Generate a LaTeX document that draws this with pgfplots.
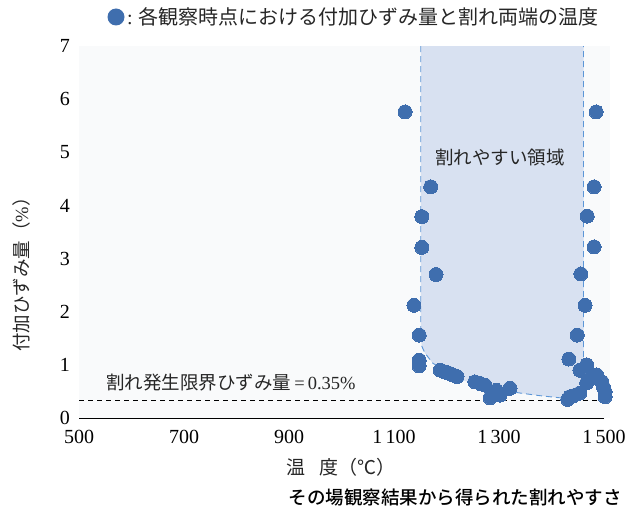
\documentclass[border=0pt]{standalone}
\usepackage{fontspec}
\setmainfont{Liberation Serif}
\newfontfamily\cjk{Noto Sans CJK JP}
\newfontfamily\cjkm{Noto Sans CJK JP Medium}
\usepackage{pgfplots}
\pgfplotsset{compat=1.18}
\definecolor{dotblue}{RGB}{63,110,174}
\definecolor{regfill}{RGB}{216,225,241}
\definecolor{regline}{RGB}{92,150,215}
\definecolor{panel}{RGB}{249,250,251}
\begin{document}
\begin{tikzpicture}[x=1pt,y=1pt]
\useasboundingbox (0,0) rectangle (628,515);
\begin{axis}[
  at={(79pt,97pt)}, anchor=south west,
  scale only axis, width=525pt, height=372pt,
  xmin=500, xmax=1500, ymin=0, ymax=7,
  axis x line*=bottom, axis y line*=left,
  axis line style={line width=0.9pt,-},
  every tick/.style={black, line width=0.9pt},
  tick align=inside, major tick length=7pt,
  xtick={500,700,900,1100,1300,1500},
  xticklabels={500,700,900,1\,100,1\,300,1\,500},
  ytick={0,1,2,3,4,5,6,7},
  yticklabels={0,1,2,3,4,5,6,7},
  extra y ticks={0.33}, extra y tick labels={},
  tick label style={font=\fontsize{20}{24}\selectfont},
  xticklabel style={inner sep=0pt, yshift=-12pt},
  yticklabel style={inner sep=0pt, xshift=-9pt},
  clip=false,
]
\fill[panel] (axis cs:500,0) rectangle (axis cs:1512,7);
% crack-prone region
\addplot[fill=regfill, draw=none] coordinates {
  (1151,7) (1151,1.5) (1153,1.35) (1159,1.22) (1174,1.03) (1190,0.94) (1207,0.85) (1232,0.71)
  (1265,0.61) (1302,0.53) (1340,0.47) (1378,0.42) (1416,0.38) (1440,0.36) (1461,0.35) (1461,7)
} -- cycle;
\addplot[regline, dash pattern=on 6pt off 4pt, line width=0.9pt] coordinates {
  (1151,7) (1151,1.5) (1153,1.35) (1159,1.22) (1174,1.03) (1190,0.94) (1207,0.85) (1232,0.71)
  (1265,0.61) (1302,0.53) (1340,0.47) (1378,0.42) (1416,0.38) (1440,0.36) (1461,0.35) (1461,7)
};
% threshold
\addplot[black, dash pattern=on 5pt off 4pt, line width=0.8pt] coordinates {(500,0.33) (1500,0.33)};
% observations
\addplot[only marks, mark=*, mark size=7pt, color=dotblue, mark options={fill=dotblue, draw=dotblue, line width=0pt}] coordinates {
  (1121,5.76) (1170,4.35) (1153,3.79) (1153,3.21) (1180,2.70) (1138,2.12) (1148,1.56)
  (1148,1.09) (1148,0.98) (1188,0.90) (1196,0.87) (1203,0.85) (1212,0.81) (1220,0.78)
  (1254,0.68) (1264,0.65) (1273,0.62) (1295,0.52) (1286,0.43) (1302,0.43) (1283,0.38)
  (1321,0.56)
  (1485,5.76) (1481,4.35) (1468,3.80) (1481,3.22) (1456,2.71) (1464,2.12) (1449,1.56)
  (1433,1.11) (1467,1.00) (1454,0.90) (1486,0.81) (1496,0.68) (1467,0.66) (1502,0.49)
  (1502,0.40) (1454,0.47) (1435,0.40) (1431,0.35) (1442,0.42) (1476,0.75) (1499,0.58)
};
\node[font=\cjk\fontsize{18.5}{22}\selectfont, text=black!85] at (axis cs:1302,4.91) {割れやすい領域};
\end{axis}
% title
\fill[dotblue] (116,498) circle (8.5);
\node[anchor=west, inner sep=0, text=black!85] at (127,498)
  {\fontsize{20}{24}\selectfont :\hspace{0.3em}{\cjk 各観察時点における付加ひずみ量と割れ両端の温度}};
% threshold label
\node[anchor=west, inner sep=0, text=black!85] at (106,132)
  {\fontsize{18.5}{22}\selectfont {\cjk 割れ発生限界ひずみ量}\,=\,0.35\%};
% axis labels
\node[text=black!85] at (341,48) {\fontsize{19}{22}\selectfont\cjk 温\hspace{0.7em}度（℃）};
\node[rotate=90, text=black!85] at (21,245) {\fontsize{18.5}{22}\selectfont {\cjk 付加ひずみ量（}\%{\cjk ）}};
% caption
\node[anchor=east, inner sep=0] at (622,18) {\fontsize{18.5}{22}\selectfont\cjkm その場観察結果から得られた割れやすさ};
\end{tikzpicture}
\end{document}
